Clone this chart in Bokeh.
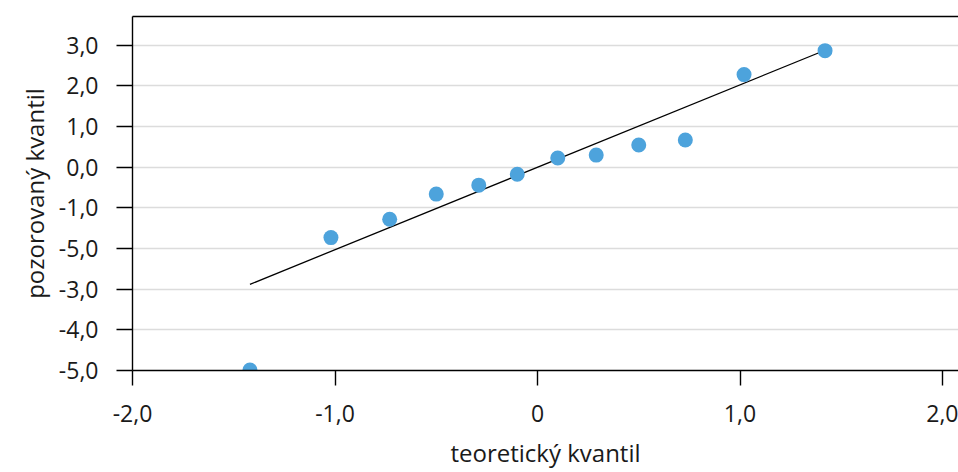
from bokeh.plotting import figure
from bokeh.models import Range1d, FixedTicker, LinearAxis
from bokeh.embed import file_html
from bokeh.resources import INLINE

# data
theoretical = [-1.42, -1.02, -0.73, -0.50, -0.29, -0.10, 0.10, 0.29, 0.50, 0.73, 1.02, 1.42]
observed = [-4.99, -1.73, -1.28, -0.66, -0.44, -0.17, 0.23, 0.30, 0.55, 0.67, 2.28, 2.87]
fit_x = [-1.42, 1.42]
fit_y = [-2.88, 2.88]

x_ticks = [-2, -1, 0, 1, 2]
x_labels = ["-2,0", "-1,0", "0", "1,0", "2,0"]
y_ticks = [3, 2, 1, 0, -1, -2, -3, -4, -5]
y_labels = ["3,0", "2,0", "1,0", "0,0", "-1,0", "-5,0", "-3,0", "-4,0", "-5,0"]
x_title = "teoretický kvantil"
y_title = "pozorovaný kvantil"

FONT = "Open Sans"
TXT = "#1a1a1a"

p = figure(width=958, height=472, output_backend="svg", toolbar_location=None,
           x_range=Range1d(-2.0, 2.079), y_range=Range1d(-5.0, 3.71),
           min_border_left=132, min_border_right=0, min_border_top=16, min_border_bottom=102)
p.outline_line_color = None
p.background_fill_color = "white"
p.border_fill_color = "white"

p.xgrid.grid_line_color = None
p.ygrid.grid_line_color = "#dcdcdc"
p.ygrid.grid_line_width = 1.5
p.ygrid.ticker = FixedTicker(ticks=y_ticks)

xa = p.xaxis[0]
xa.ticker = FixedTicker(ticks=x_ticks)
xa.major_label_overrides = {t: l for t, l in zip(x_ticks, x_labels)}
xa.minor_tick_line_color = None
xa.major_tick_in = 0
xa.major_tick_out = 15
xa.axis_line_color = "black"
xa.axis_line_width = 1.4
xa.major_tick_line_width = 1.4
xa.major_label_text_font = FONT
xa.major_label_text_font_size = "23px"
xa.major_label_text_color = TXT
xa.major_label_standoff = 19
xa.axis_label = x_title
xa.axis_label_text_font = FONT
xa.axis_label_text_font_size = "24px"
xa.axis_label_text_font_style = "normal"
xa.axis_label_text_color = TXT
xa.axis_label_standoff = 11

ya = p.yaxis[0]
ya.ticker = FixedTicker(ticks=y_ticks)
ya.major_label_overrides = {t: l for t, l in zip(y_ticks, y_labels)}
ya.minor_tick_line_color = None
ya.major_tick_in = 0
ya.major_tick_out = 16
ya.axis_line_color = "black"
ya.axis_line_width = 1.4
ya.major_tick_line_width = 1.4
ya.major_label_text_font = FONT
ya.major_label_text_font_size = "23px"
ya.major_label_text_color = TXT
ya.major_label_standoff = 18
ya.axis_label = y_title
ya.axis_label_text_font = FONT
ya.axis_label_text_font_size = "24px"
ya.axis_label_text_font_style = "normal"
ya.axis_label_text_color = TXT
ya.axis_label_standoff = 5

top = LinearAxis(ticker=FixedTicker(ticks=[]), major_label_text_font_size="0px",
                 axis_line_color="black", axis_line_width=1.4,
                 major_tick_line_color=None, minor_tick_line_color=None)
p.add_layout(top, "above")

p.line(fit_x, fit_y, line_color="black", line_width=1.3)
p.scatter(theoretical, observed, size=15, fill_color="#4da3dc", line_color=None)

open("out.html", "w").write(file_html(p, INLINE))
